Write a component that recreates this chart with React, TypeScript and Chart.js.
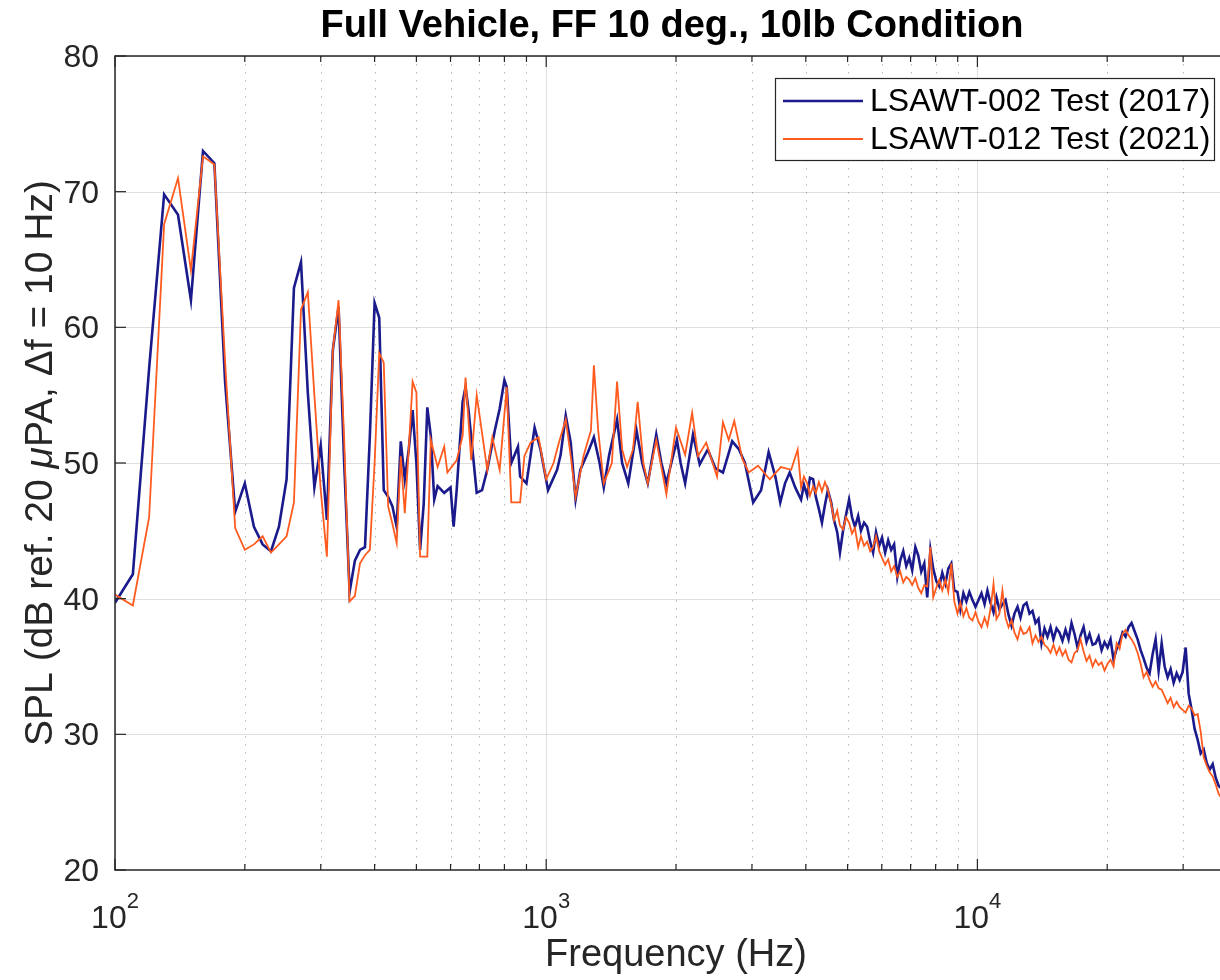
import React, { useEffect, useRef } from "react";
import { Chart, registerables } from "chart.js";

Chart.register(...registerables);

// ---------- data ----------
// low / mid frequency part (Hz, dB)
const blueFreq = [
  100, 110, 120, 130, 140, 150, 160, 170, 180, 190, 200, 210, 220, 230, 240, 250, 260, 270, 280, 290,
  300, 310, 320, 330, 340, 350, 360, 370, 380, 390, 400, 410, 420, 430, 440, 450, 460, 470, 480, 490,
  500, 510, 520, 530, 540, 550, 560, 580, 600, 610, 620, 640, 650, 660, 690, 710, 730, 760, 780, 800,
  810, 830, 860, 870, 900, 940, 970, 1010, 1060, 1080, 1110, 1140, 1170, 1200, 1250, 1290, 1330, 1360,
  1400, 1460, 1500, 1550, 1620, 1670, 1720, 1800, 1850, 1900, 2010, 2050, 2100, 2190, 2270, 2370, 2470,
  2570, 2700, 2800, 2890, 3020, 3150, 3280, 3400, 3490, 3580, 3670, 3780,
];
const blueSpl = [
  39.7, 41.8, 57.0, 69.8, 68.3, 62.0, 73.0, 72.1, 56.0, 46.4, 48.5, 45.3, 44.0, 43.5, 45.3, 48.8, 62.9, 64.8, 55.2, 48.2,
  51.3, 45.8, 58.3, 61.5, 50.0, 40.5, 42.8, 43.6, 43.8, 52.0, 61.8, 60.7, 48.0, 47.5, 46.8, 45.3, 51.6, 48.8, 51.0, 53.9,
  50.0, 43.6, 47.0, 54.1, 52.0, 47.3, 48.3, 47.8, 48.2, 45.3, 48.0, 54.5, 55.6, 54.0, 47.8, 48.0, 49.5, 52.4, 54.0, 56.1,
  55.6, 50.0, 51.2, 49.0, 48.5, 52.6, 51.0, 48.0, 49.5, 50.6, 53.5, 51.5, 47.3, 49.5, 50.8, 51.9, 50.0, 48.2,
  50.6, 53.2, 50.0, 48.5, 52.4, 50.0, 48.5, 52.1, 50.0, 48.5, 51.7, 50.0, 48.5, 52.1, 49.9, 51.0, 49.6,
  49.3, 51.6, 51.0, 50.0, 47.1, 48.0, 50.8, 49.0, 47.1, 48.5, 49.3, 48.2,
];

const orangeFreq = [
  100, 110, 120, 130, 140, 150, 160, 170, 180, 190, 200, 210, 220, 230, 240, 250, 260, 270, 280, 290,
  300, 310, 320, 330, 340, 350, 360, 370, 380, 390, 400, 410, 420, 430, 440, 450, 460, 470, 480, 490,
  500, 510, 520, 530, 540, 560, 580, 590, 620, 640, 650, 670, 690, 710, 730, 750, 780, 810, 830, 870,
  890, 920, 960, 1000, 1040, 1070, 1110, 1140, 1170, 1220, 1270, 1290, 1320, 1360, 1420, 1460, 1500,
  1540, 1590, 1630, 1680, 1720, 1800, 1900, 2000, 2100, 2180, 2250, 2350, 2490, 2570, 2650, 2730,
  2850, 2950, 3100, 3300, 3500, 3700, 3830,
];
const orangeSpl = [
  40.3, 39.5, 46.0, 67.6, 71.0, 64.2, 72.6, 72.0, 57.5, 45.2, 43.6, 44.0, 44.6, 43.4, 44.0, 44.6, 47.1, 61.3, 62.6, 55.0,
  48.0, 43.1, 58.3, 62.0, 51.7, 39.8, 40.2, 42.6, 43.2, 43.6, 50.0, 58.1, 57.4, 46.8, 45.5, 44.1, 50.5, 46.3, 51.0, 56.0,
  55.2, 43.1, 43.1, 43.1, 51.7, 49.7, 51.2, 49.3, 50.2, 52.0, 56.3, 50.2, 55.0, 52.2, 49.5, 51.9, 49.5, 55.6, 47.1, 47.1,
  50.5, 51.5, 51.9, 48.8, 50.0, 51.5, 53.2, 50.5, 47.5, 50.5, 52.4, 57.2, 52.4, 48.5, 50.0, 56.0, 51.0,
  49.7, 51.0, 54.5, 50.0, 48.5, 51.7, 47.7, 52.6, 50.6, 53.7, 50.5, 51.5, 49.0, 53.0, 51.7, 53.1,
  50.3, 49.3, 49.8, 48.8, 49.7, 49.5, 51.0,
];

// high frequency part, shared frequency grid (Hz)
const hfFreq = [
  3900, 3960, 4030, 4090, 4160, 4220, 4290, 4360, 4430, 4500,
  4580, 4650, 4730, 4800, 4880, 4960, 5040, 5120, 5200, 5290,
  5370, 5460, 5550, 5640, 5730, 5820, 5920, 6010, 6110, 6210,
  6310, 6410, 6520, 6620, 6730, 6840, 6950, 7060, 7180, 7290,
  7410, 7530, 7650, 7780, 7900, 8030, 8160, 8290, 8430, 8560,
  8700, 8840, 8990, 9130, 9280, 9430, 9580, 9740, 9900, 10060,
  10220, 10390, 10550, 10720, 10900, 11070, 11250, 11430, 11620, 11810,
  12000, 12190, 12390, 12590, 12790, 13000, 13210, 13420, 13640, 13860,
  14080, 14310, 14540, 14780, 15010, 15260, 15500, 15750, 16010, 16270,
  16530, 16800, 17070, 17350, 17630, 17910, 18200, 18500, 18790, 19100,
  19410, 19720, 20040, 20360, 20690, 21030, 21370, 21710, 22060, 22420,
  22780, 23150, 23530, 23910, 24290, 24690, 25080, 25490, 25900, 26320,
  26750, 27180, 27620, 28060, 28520, 28980, 29450, 29920, 30410, 30900,
  31400, 31900, 32420, 32950, 33480, 34020, 34570, 35130, 35700, 36280,
  36860, 37460, 38070, 38680, 39310, 40000,
];
const blueHf = [
  47.3, 48.4, 47.6, 48.9, 48.8, 47.5, 46.6, 45.6, 46.9, 48.0,
  47.1, 45.8, 44.9, 43.4, 45.0, 46.2, 47.3, 46.0, 45.3, 46.1,
  45.0, 45.6, 45.3, 44.2, 43.4, 44.9, 43.9, 44.5, 43.4, 44.3,
  43.6, 44.0, 41.6, 42.8, 43.5, 42.4, 43.0, 42.1, 43.8, 43.2,
  42.0, 42.6, 40.1, 43.6, 42.2, 41.3, 40.9, 41.9, 41.1, 42.2,
  42.6, 40.6, 40.5, 39.2, 40.4, 39.8, 40.5, 39.9, 39.4, 39.9,
  40.4, 39.6, 40.6, 39.7, 39.0, 40.1, 39.2, 39.6, 39.9, 38.8,
  38.0, 38.9, 39.4, 38.6, 39.5, 39.7, 38.9, 39.1, 38.2, 38.5,
  36.7, 37.8, 37.2, 37.9, 37.0, 37.8, 37.5, 36.9, 37.7, 37.0,
  38.2, 37.4, 36.4, 37.3, 37.9, 36.8, 37.4, 36.6, 36.7, 37.2,
  36.2, 36.8, 36.4, 37.0, 35.5, 36.3, 36.8, 37.5, 37.2, 37.9,
  38.2, 37.6, 37.0, 36.2, 35.6, 34.9, 34.5, 35.9, 37.0, 34.7,
  36.7, 35.0, 34.2, 34.8, 33.8, 34.5, 34.0, 34.6, 36.4, 33.0,
  31.8, 30.4, 29.6, 28.6, 28.9, 27.9, 27.4, 27.8, 26.8, 26.2,
  26.0, 25.6, 25.4, 25.1, 25.0, 24.7,
];
const orangeHf = [
  48.2, 49.0, 48.5, 47.6, 48.3, 47.8, 48.6, 47.9, 48.6, 48.0,
  47.0, 45.8, 46.5, 45.4, 45.1, 46.0, 45.6, 44.8, 45.2, 43.8,
  44.6, 43.9, 44.2, 43.5, 43.8, 44.6, 43.5, 43.0, 42.5, 42.9,
  42.0, 42.4, 41.6, 42.0, 41.2, 41.6, 41.4, 41.0, 41.5, 40.8,
  40.4, 41.0, 40.9, 43.8, 40.1, 40.8, 41.4, 40.6, 41.4, 40.5,
  42.6, 39.8, 38.9, 39.7, 38.7, 39.3, 38.6, 38.4, 39.0, 38.3,
  37.9, 38.6, 38.0, 39.2, 41.1, 38.5, 38.9, 40.6, 38.6, 37.9,
  38.4, 37.5, 37.0, 37.9, 37.4, 37.5, 37.9, 36.7, 37.3, 36.8,
  37.2, 36.6, 36.4, 36.0, 36.6, 35.9, 36.4, 35.8, 36.2, 35.5,
  35.3, 36.0, 36.2, 37.0, 36.1, 35.4, 35.8, 35.0, 35.5, 35.1,
  35.3, 34.7, 35.2, 35.5, 35.0, 36.7, 36.3, 37.4, 37.7, 37.3,
  37.0, 36.6, 36.0, 35.2, 34.2, 34.6, 34.0, 33.5, 33.9, 33.4,
  33.3, 32.8, 32.3, 32.7, 32.0, 32.4, 32.0, 31.8, 31.6, 32.1,
  31.9, 31.4, 31.5, 30.2, 28.3, 27.7, 27.2, 26.9, 26.3, 25.6,
  25.3, 25.0, 24.8, 24.6, 24.4, 24.2,
];

const seriesNames = ["LSAWT-002 Test (2017)", "LSAWT-012 Test (2021)"];
const seriesColors = ["#1a1a8c", "#ff5b1f"];
const titleText = "Full Vehicle, FF 10 deg., 10lb Condition";
const xTitle = "Frequency (Hz)";
const yTitleParts = ["SPL (dB ref. 20 ", "\u03bc", "PA, \u0394f = 10 Hz)"];
const yTicks = [20, 30, 40, 50, 60, 70, 80];
const xMajorTicks = [100, 1000, 10000];
const xMajorExp = ["2", "3", "4"];
const xMinorTicks = [200, 300, 400, 500, 600, 700, 800, 900, 2000, 3000, 4000, 5000, 6000, 7000, 8000, 9000, 20000, 30000];

const FONT = "'Liberation Sans', Arial, Helvetica, sans-serif";
const AXIS_COLOR = "#262626";

function drawText(
  ctx: CanvasRenderingContext2D,
  s: string,
  x: number,
  y: number,
  font: string,
  align: "left" | "center" | "right",
  sx: number,
  color: string
) {
  ctx.save();
  ctx.font = font;
  const w = ctx.measureText(s).width * sx;
  const x0 = align === "center" ? x - w / 2 : align === "right" ? x - w : x;
  ctx.translate(x0, y);
  ctx.scale(sx, 1);
  ctx.fillStyle = color;
  ctx.textAlign = "left";
  ctx.textBaseline = "alphabetic";
  ctx.fillText(s, 0, 0);
  ctx.restore();
  return w;
}

const matlabPlugin = {
  id: "matlabLook",
  beforeDatasetsDraw(chart: any) {
    const { ctx, chartArea: a, scales } = chart;
    const x = scales.x;
    const y = scales.y;
    ctx.save();
    ctx.beginPath();
    ctx.rect(a.left, a.top, a.right - a.left, a.bottom - a.top);
    ctx.clip();
    ctx.lineWidth = 1;
    ctx.strokeStyle = "rgba(38,38,38,0.32)";
    ctx.setLineDash([1.5, 6.5]);
    for (const v of xMinorTicks) {
      const px = Math.round(x.getPixelForValue(v)) + 0.5;
      ctx.beginPath();
      ctx.moveTo(px, a.top);
      ctx.lineTo(px, a.bottom);
      ctx.stroke();
    }
    ctx.setLineDash([]);
    ctx.strokeStyle = "rgba(38,38,38,0.15)";
    for (const v of xMajorTicks) {
      const px = Math.round(x.getPixelForValue(v)) + 0.5;
      ctx.beginPath();
      ctx.moveTo(px, a.top);
      ctx.lineTo(px, a.bottom);
      ctx.stroke();
    }
    for (const v of yTicks) {
      const py = Math.round(y.getPixelForValue(v)) + 0.5;
      ctx.beginPath();
      ctx.moveTo(a.left, py);
      ctx.lineTo(a.right, py);
      ctx.stroke();
    }
    ctx.restore();
  },
  afterDatasetsDraw(chart: any) {
    const { ctx, chartArea: a, scales } = chart;
    const x = scales.x;
    const y = scales.y;
    ctx.save();
    ctx.strokeStyle = AXIS_COLOR;
    ctx.lineWidth = 1.5;
    ctx.beginPath();
    ctx.moveTo(a.right, a.top);
    ctx.lineTo(a.left, a.top);
    ctx.lineTo(a.left, a.bottom);
    ctx.lineTo(a.right, a.bottom);
    ctx.stroke();
    ctx.lineWidth = 1.2;
    for (const v of yTicks) {
      const py = y.getPixelForValue(v);
      ctx.beginPath();
      ctx.moveTo(a.left, py);
      ctx.lineTo(a.left + 11, py);
      ctx.stroke();
    }
    const tickX = (v: number, len: number) => {
      const px = x.getPixelForValue(v);
      ctx.beginPath();
      ctx.moveTo(px, a.bottom);
      ctx.lineTo(px, a.bottom - len);
      ctx.moveTo(px, a.top);
      ctx.lineTo(px, a.top + len);
      ctx.stroke();
    };
    for (const v of xMajorTicks) tickX(v, 11);
    for (const v of xMinorTicks) tickX(v, 6);
    const tickFont = `32px ${FONT}`;
    for (const v of yTicks) {
      const py = y.getPixelForValue(v);
      drawText(ctx, String(v), a.left - 16, py + 11, tickFont, "right", 1.0, AXIS_COLOR);
    }
    const supFont = `22px ${FONT}`;
    xMajorTicks.forEach((v, i) => {
      const px = x.getPixelForValue(v);
      ctx.font = tickFont;
      const w1 = ctx.measureText("10").width;
      ctx.font = supFont;
      const w2 = ctx.measureText(xMajorExp[i]).width;
      const x0 = px - (w1 + w2) / 2;
      drawText(ctx, "10", x0, a.bottom + 58, tickFont, "left", 1.0, AXIS_COLOR);
      drawText(ctx, xMajorExp[i], x0 + w1, a.bottom + 38, supFont, "left", 1.0, AXIS_COLOR);
    });
    const cx = (a.left + a.right) / 2;
    drawText(ctx, xTitle, cx, a.bottom + 96, `38px ${FONT}`, "center", 1.0, AXIS_COLOR);
    drawText(ctx, titleText, cx - 4, 37, `bold 38px ${FONT}`, "center", 1.0, "#000");
    const yFont = `39px ${FONT}`;
    const yFontIt = `italic 39px ${FONT}`;
    ctx.font = yFont;
    const wa = ctx.measureText(yTitleParts[0]).width;
    const wc = ctx.measureText(yTitleParts[2]).width;
    ctx.font = yFontIt;
    const wb = ctx.measureText(yTitleParts[1]).width;
    const total = wa + wb + wc;
    ctx.save();
    ctx.translate(52, (a.top + a.bottom) / 2);
    ctx.rotate(-Math.PI / 2);
    let xx = -total / 2;
    drawText(ctx, yTitleParts[0], xx, 0, yFont, "left", 1, AXIS_COLOR);
    xx += wa;
    drawText(ctx, yTitleParts[1], xx, 0, yFontIt, "left", 1, AXIS_COLOR);
    xx += wb;
    drawText(ctx, yTitleParts[2], xx, 0, yFont, "left", 1, AXIS_COLOR);
    ctx.restore();
    const lx = 775, ly = 78, lw = 439, lh = 82;
    ctx.fillStyle = "#fff";
    ctx.fillRect(lx, ly, lw, lh);
    ctx.strokeStyle = AXIS_COLOR;
    ctx.lineWidth = 1.2;
    ctx.strokeRect(lx + 0.5, ly + 0.5, lw, lh);
    const rows = [101, 139];
    const widths = [2.6, 1.8];
    seriesNames.forEach((name, i) => {
      ctx.strokeStyle = seriesColors[i];
      ctx.lineWidth = widths[i];
      ctx.beginPath();
      ctx.moveTo(783, rows[i]);
      ctx.lineTo(863, rows[i]);
      ctx.stroke();
      drawText(ctx, name, 870, rows[i] + 10, `32px ${FONT}`, "left", 1.0, "#000");
    });
    ctx.restore();
  },
};

export default function App() {
  const ref = useRef<HTMLCanvasElement | null>(null);
  useEffect(() => {
    if (!ref.current) return;
    const bluePts = blueFreq.map((f, i) => ({ x: f, y: blueSpl[i] })).concat(
      hfFreq.map((f, i) => ({ x: f, y: blueHf[i] }))
    );
    const orangePts = orangeFreq.map((f, i) => ({ x: f, y: orangeSpl[i] })).concat(
      hfFreq.map((f, i) => ({ x: f, y: orangeHf[i] }))
    );
    const chart = new Chart(ref.current, {
      type: "line",
      data: {
        datasets: [
          {
            label: seriesNames[0],
            data: bluePts,
            borderColor: seriesColors[0],
            borderWidth: 2.6,
            pointRadius: 0,
            tension: 0,
            order: 2,
          },
          {
            label: seriesNames[1],
            data: orangePts,
            borderColor: seriesColors[1],
            borderWidth: 1.8,
            pointRadius: 0,
            tension: 0,
            order: 1,
          },
        ],
      },
      options: {
        responsive: false,
        animation: false,
        parsing: false as any,
        layout: { padding: { left: 115, top: 56, right: 3, bottom: 110 } },
        scales: {
          x: { type: "logarithmic", min: 100, max: 40000, display: false },
          y: { type: "linear", min: 20, max: 80, display: false },
        },
        plugins: {
          legend: { display: false },
          title: { display: false },
          tooltip: { enabled: false },
        },
      },
      plugins: [matlabPlugin],
    });
    return () => chart.destroy();
  }, []);
  return (
    <div
      style={{
        position: "fixed",
        left: 0,
        top: 0,
        width: 1220,
        height: 980,
        overflow: "hidden",
        background: "#fff",
      }}
    >
      <canvas ref={ref} width={1240} height={980} style={{ display: "block", width: 1240, height: 980 }} />
    </div>
  );
}
